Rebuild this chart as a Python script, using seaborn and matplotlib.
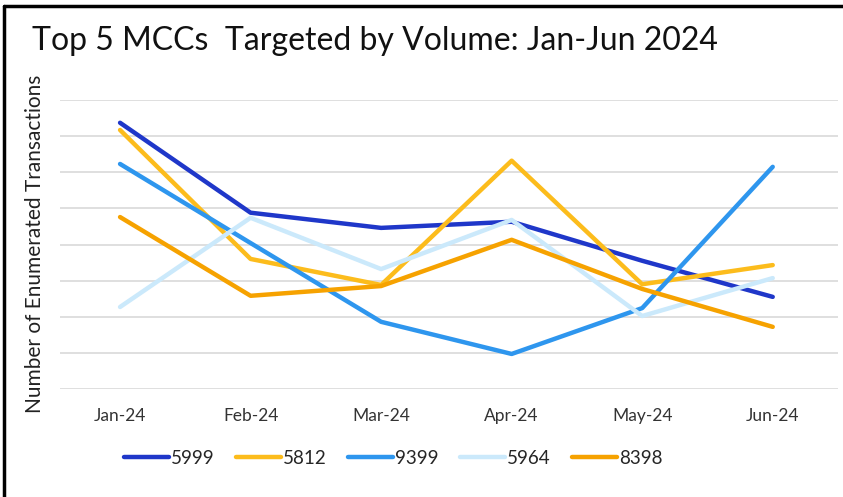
import seaborn as sns
import matplotlib.pyplot as plt
import pandas as pd
from matplotlib.lines import Line2D

months = ['Jan-24', 'Feb-24', 'Mar-24', 'Apr-24', 'May-24', 'Jun-24']
mccs = ['5999', '5812', '9399', '5964', '8398']
mcc_5999 = [7.37, 4.88, 4.46, 4.63, 3.55, 2.55]
mcc_5812 = [7.17, 3.60, 2.88, 6.32, 2.90, 3.43]
mcc_9399 = [6.23, 4.04, 1.86, 0.97, 2.24, 6.15]
mcc_5964 = [2.27, 4.74, 3.32, 4.68, 2.02, 3.07]
mcc_8398 = [4.76, 2.58, 2.85, 4.13, 2.77, 1.72]
colors = ['#1F37C9', '#FCBC1C', '#2E96EE', '#CBE9FB', '#F6A200']

series = [mcc_5999, mcc_5812, mcc_9399, mcc_5964, mcc_8398]
rows = []
for code, vals in zip(mccs, series):
    for i, v in enumerate(vals):
        rows.append({'Month': i, 'MCC': code, 'Count': v})
df = pd.DataFrame(rows)

sns.set_style('white')
plt.rcParams['font.family'] = ['Lato', 'DejaVu Sans']

fig = plt.figure(figsize=(8.43, 4.97), dpi=100)
ax = fig.add_axes([60 / 843, 108 / 497, 778 / 843, 289 / 497])

sns.lineplot(data=df, x='Month', y='Count', hue='MCC', hue_order=mccs,
             palette=colors, linewidth=3.2, ax=ax)

ax.set_xlim(-0.46, 5.5)
ax.set_ylim(0, 8)
ax.set_yticks(range(0, 9))
ax.set_yticklabels([])
ax.yaxis.grid(True, color='#D9D9D9', linewidth=1.2)
ax.set_axisbelow(True)
ax.set_xticks(range(len(months)))
ax.set_xticklabels(months, fontsize=12.5, color='#333333')
ax.tick_params(axis='both', length=0, pad=14)
for s in ax.spines.values():
    s.set_visible(False)
ax.set_xlabel('')
ax.set_ylabel('')

fig.text(0.042, 0.51, 'Number of Enumerated Transactions', rotation=90,
         ha='center', va='center', fontsize=15, color='#222222')
fig.text(0.038, 0.918, 'Top 5 MCCs  Targeted by Volume: Jan-Jun 2024',
         ha='left', va='center', fontsize=23, color='#111111')

handles, labels = ax.get_legend_handles_labels()
ax.legend(handles, labels, loc='center', bbox_to_anchor=(0.428, -0.239),
          ncol=5, frameon=False, fontsize=13.5, handlelength=2.4,
          handletextpad=0.1, columnspacing=1.15)

# border of the original image
fig.add_artist(Line2D([0.005, 0.005], [0, 0.988], transform=fig.transFigure,
                      color='black', linewidth=2.5))
fig.add_artist(Line2D([0.005, 1.0], [0.988, 0.988], transform=fig.transFigure,
                      color='black', linewidth=2.5))

plt.savefig('out.png', dpi=100)
